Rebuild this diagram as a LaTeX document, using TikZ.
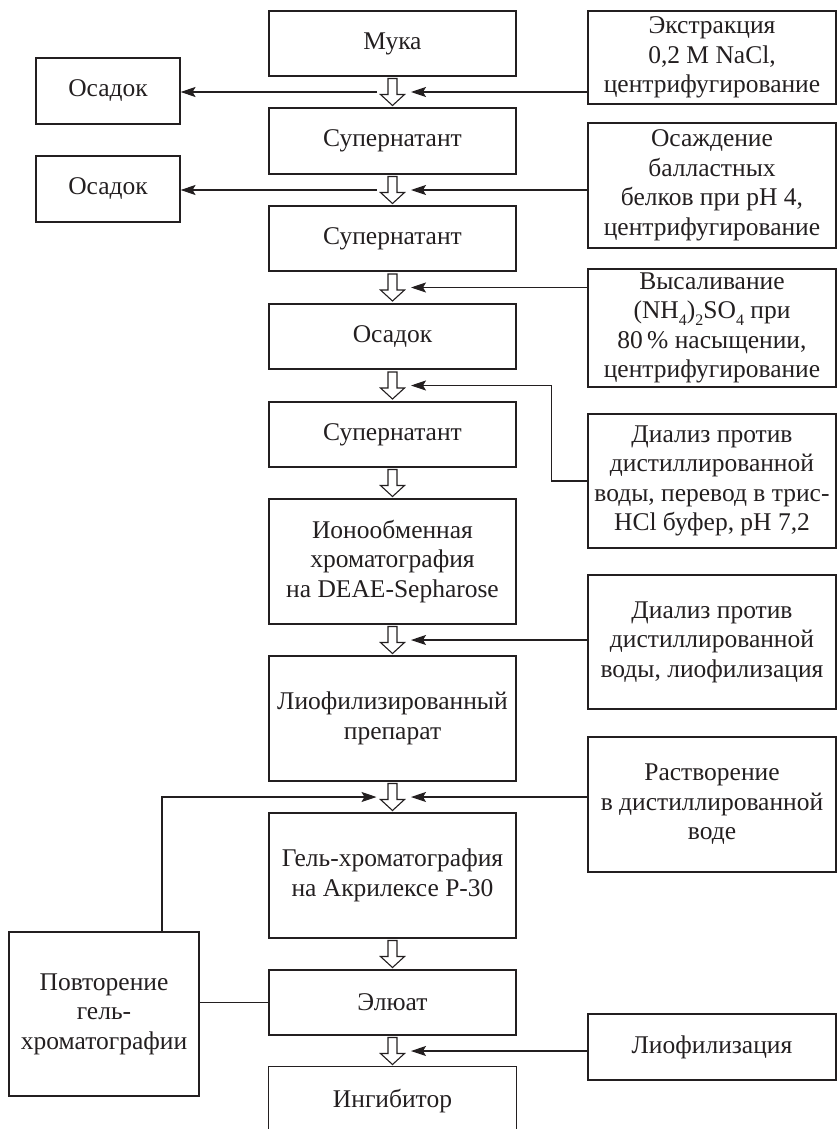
\documentclass[tikz,border=0pt]{standalone}
\usepackage{fontspec}
\setmainfont{Liberation Serif}
\usetikzlibrary{arrows.meta,calc}
\definecolor{ink}{HTML}{231F20}
\newcommand\lowsub[1]{\raisebox{-0.28em}{\fontsize{16}{16}\selectfont #1}}
\tikzset{
  box/.style={draw=ink, line width=1.1pt, align=center, inner sep=0pt, text=ink,
    font=\fontsize{25.5}{29.5}\selectfont},
  mainbox/.style={box, minimum width=247pt},
  rightbox/.style={box, minimum width=248pt},
  arr/.style={draw=ink, line width=1.1pt, -{Stealth[length=15pt,width=10pt,inset=3pt]}},
  conn/.style={draw=ink, line width=1.1pt},
  hollow/.pic={\draw[draw=ink, line width=1.1pt, fill=white, line join=miter]
     (-4.5,-13.5) -- (4.5,-13.5) -- (4.5,2.5) -- (12,2.5) -- (0,13.5) -- (-12,2.5) -- (-4.5,2.5) -- cycle;}
}
\begin{document}
\begin{tikzpicture}[x=1pt,y=-1pt]
\useasboundingbox (0,0) rectangle (837,1129);
% main column
\node[mainbox, minimum height=65pt] (m1) at (392.5,43.5) {Мука};
\node[mainbox, minimum height=66pt] (m2) at (392.5,141) {Супернатант};
\node[mainbox, minimum height=65pt] (m3) at (392.5,238.5) {Супернатант};
\node[mainbox, minimum height=65pt] (m4) at (392.5,336.5) {Осадок};
\node[mainbox, minimum height=65pt] (m5) at (392.5,434.5) {Супернатант};
\node[mainbox, minimum height=125pt] (m6) at (392.5,561.5) {Ионообменная\\хроматография\\на DEAE-Sepharose};
\node[mainbox, minimum height=125pt] (m7) at (392.5,718.5) {Лиофилизированный\\препарат};
\node[mainbox, minimum height=125pt] (m8) at (392.5,875.5) {Гель-хроматография\\на Акрилексе Р-30};
\node[mainbox, minimum height=65pt] (m9) at (392.5,1002.5) {Элюат};
\node[mainbox, draw=none, minimum height=68pt] (m10) at (392.5,1101) {Ингибитор};
\draw[conn] (m10.west |- 0,1129) -- (m10.north west) -- (m10.north east) -- (m10.east |- 0,1129);
% right column
\node[rightbox, minimum height=93pt] (r1) at (712,57.5) {Экстракция\\0,2 М NaCl,\\центрифугирование};
\node[rightbox, minimum height=125pt] (r2) at (712,185.5) {Осаждение\\балластных\\белков при pH 4,\\центрифугирование};
\node[rightbox, minimum height=118pt] (r3) at (712,328) {Высаливание\\(NH\lowsub{4})\lowsub{2}SO\lowsub{4} при\\80\,\% насыщении,\\центрифугирование};
\node[rightbox, minimum height=134pt] (r4) at (712,481) {Диализ против\\дистиллированной\\воды, перевод в трис-\\HCl буфер, pH 7,2};
\node[rightbox, minimum height=134pt] (r5) at (712,642) {Диализ против\\дистиллированной\\воды, лиофилизация};
\node[rightbox, minimum height=135pt] (r6) at (712,804.5) {Растворение\\в дистиллированной\\воде};
\node[rightbox, minimum height=66pt] (r7) at (712,1047) {Лиофилизация};
% left column
\node[box, minimum width=144pt, minimum height=66pt] (l1) at (108,91) {Осадок};
\node[box, minimum width=144pt, minimum height=66pt] (l2) at (108,189) {Осадок};
\node[box, minimum width=190pt, minimum height=164pt] (l3) at (104,1014) {Повторение\\гель-\\хроматографии};
% gap coordinates
\foreach \a/\b/\g in {m1/m2/g1, m2/m3/g2, m3/m4/g3, m4/m5/g4, m5/m6/g5, m6/m7/g6, m7/m8/g7, m8/m9/g8, m9/m10/g9}
  \coordinate (\g) at ($(\a.south)!0.5!(\b.north)$);
% hollow arrows
\foreach \g in {g1,g2,g3,g4,g5,g6,g7,g8,g9}
  \pic at (\g) {hollow};
% connectors from right
\draw[arr] (r1.west |- g1) -- ([xshift=18.5pt]g1);
\draw[arr] (r2.west |- g2) -- ([xshift=18.5pt]g2);
\draw[arr] (r3.west |- g3) -- ([xshift=18.5pt]g3);
\draw[arr] (r4.west) -- ++(-36,0) |- ([xshift=18.5pt]g4);
\draw[arr] (r5.west |- g6) -- ([xshift=18.5pt]g6);
\draw[arr] (r6.west |- g7) -- ([xshift=18.5pt]g7);
\draw[arr] (r7.west |- g9) -- ([xshift=18.5pt]g9);
% connectors to left
\draw[arr] ([xshift=-15.5pt]g1) -- (l1.east |- g1);
\draw[arr] ([xshift=-15.5pt]g2) -- (l2.east |- g2);
% loop
\coordinate (lp) at ($(l3.north)+(58,0)$);
\draw[arr] (lp) |- ([xshift=-16pt]g7);
\draw[conn] (l3.east |- m9) -- (m9.west);
\end{tikzpicture}
\end{document}
